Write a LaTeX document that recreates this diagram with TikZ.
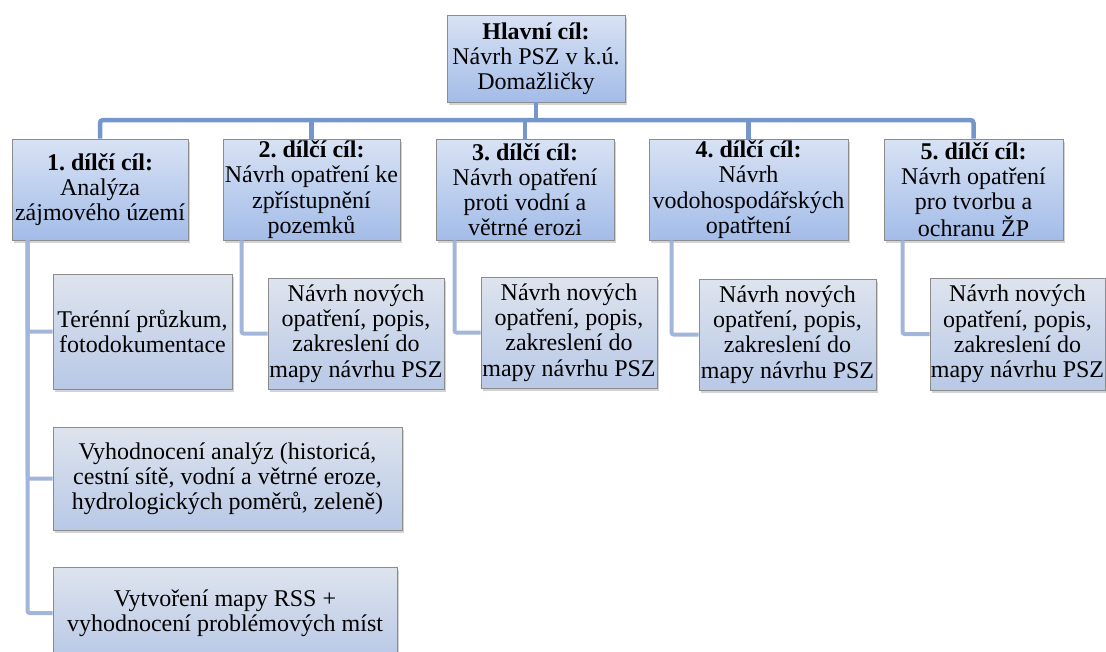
\documentclass[tikz,border=0pt]{standalone}
\usepackage{fontspec}
\setmainfont{Liberation Serif}
\usetikzlibrary{shadows,calc}
\frenchspacing
\definecolor{lvtop}{RGB}{216,226,244}
\definecolor{lvbot}{RGB}{163,188,232}
\definecolor{chtop}{RGB}{222,228,238}
\definecolor{chbot}{RGB}{184,200,230}
\definecolor{edgegray}{RGB}{140,140,140}
\definecolor{buscol}{RGB}{117,150,203}
\definecolor{subcol}{RGB}{162,181,218}
\tikzset{
  boxbase/.style={draw=edgegray, line width=0.8pt, align=center, inner sep=0pt,
    font=\fontsize{24}{25.2}\selectfont,
    drop shadow={shadow xshift=2pt, shadow yshift=-2.5pt, opacity=0.35}},
  lvbox/.style={boxbase, top color=lvtop, bottom color=lvbot},
  chbox/.style={boxbase, top color=chtop, bottom color=chbot},
  bus/.style={draw=buscol, line width=4.5pt, rounded corners=3pt},
  sub/.style={draw=subcol, line width=4pt, rounded corners=2pt},
}
\begin{document}
\begin{tikzpicture}[x=1pt,y=-1pt]
\useasboundingbox (0,0) rectangle (1106,651);
\coordinate (busy) at (0,120);
\node[lvbox, minimum width=178pt, minimum height=87pt] (main) at (536,58.5)
  {\textbf{Hlavní cíl:}\\Návrh PSZ v k.ú.\\Domažličky};
\node[lvbox, minimum width=176pt, minimum height=101pt] (b1) at (100,189.5)
  {\textbf{1. dílčí cíl:}\\Analýza\\zájmového území};
\node[lvbox, minimum width=177pt, minimum height=101pt] (b2) at (311.5,189.5)
  {\textbf{2. dílčí cíl:}\\Návrh opatření ke\\zpřístupnění\\pozemků};
\node[lvbox, minimum width=178pt, minimum height=101pt] (b3) at (525,189.5)
  {\textbf{3. dílčí cíl:}\\Návrh opatření\\proti vodní a\\větrné erozi};
\node[lvbox, minimum width=199pt, minimum height=101pt] (b4) at (748.5,189.5)
  {\textbf{4. dílčí cíl:}\\Návrh\\vodohospodářských\\opatřtení};
\node[lvbox, minimum width=179pt, minimum height=101pt] (b5) at (973.5,189.5)
  {\textbf{5. dílčí cíl:}\\Návrh opatření\\pro tvorbu a\\ochranu ŽP};
% bus
\draw[bus] (main.south) -- (main.south |- busy);
\draw[bus] (b1.north) -- (b1.north |- busy) -| (b5.north);
\draw[bus] (b2.north |- busy) -- (b2.north);
\draw[bus] (b3.north |- busy) -- (b3.north);
\draw[bus] (b4.north |- busy) -- (b4.north);
% children
\node[chbox, minimum width=179pt, minimum height=115pt] (c11) at (142.5,331.5)
  {Terénní průzkum,\\fotodokumentace};
\node[chbox, minimum width=349pt, minimum height=103pt] (c12) at (227.5,478.5)
  {Vyhodnocení analýz (historicá,\\cestní sítě, vodní a větrné eroze,\\hydrologických poměrů, zeleně)};
\node[chbox, minimum width=344pt, minimum height=92pt] (c13) at (225,613)
  {Vytvoření mapy RSS +\\vyhodnocení problémových míst};
\node[chbox, minimum width=176pt, minimum height=111pt] (c2) at (356,333.5)
  {Návrh nových\\opatření, popis,\\zakreslení do\\mapy návrhu PSZ};
\node[chbox, minimum width=176pt, minimum height=111pt] (c3) at (569,332.5)
  {Návrh nových\\opatření, popis,\\zakreslení do\\mapy návrhu PSZ};
\node[chbox, minimum width=177pt, minimum height=111pt] (c4) at (787.5,334.5)
  {Návrh nových\\opatření, popis,\\zakreslení do\\mapy návrhu PSZ};
\node[chbox, minimum width=175pt, minimum height=112pt] (c5) at (1017.5,334)
  {Návrh nových\\opatření, popis,\\zakreslení do\\mapy návrhu PSZ};
% sub connectors
\draw[sub] ([xshift=16pt]b1.south west) |- (c11.west);
\draw[sub] ([xshift=16pt]b1.south west) |- (c12.west);
\draw[sub] ([xshift=16pt]b1.south west) |- (c13.west);
\draw[sub] ([xshift=19pt]b2.south west) |- (c2.west);
\draw[sub] ([xshift=19pt]b3.south west) |- (c3.west);
\draw[sub] ([xshift=23pt]b4.south west) |- (c4.west);
\draw[sub] ([xshift=19pt]b5.south west) |- (c5.west);
\end{tikzpicture}
\end{document}
